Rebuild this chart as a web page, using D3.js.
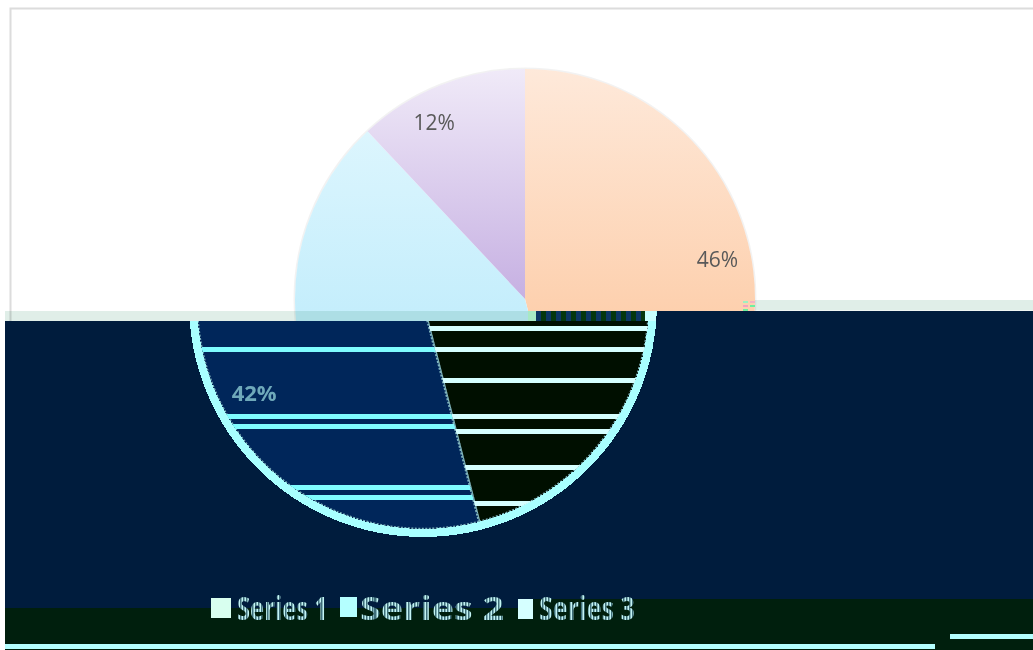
<!DOCTYPE html>
<html>
<head>
<meta charset="utf-8">
<script src="https://cdn.jsdelivr.net/npm/d3@7"></script>
<style>
  html, body { margin: 0; padding: 0; background: #fff; }
  svg { display: block; }
</style>
</head>
<body>
<div id="chart-area"></div>
<script>
// Data (legend words are not legible in the reference, so these are stand-ins)
const sliceNames = ["Series 1", "Series 2", "Series 3"];
const sliceValues = [46, 42, 12];
const sliceLabels = ["46%", "42%", "12%"];

const width = 1033, height = 650;

const svg = d3.select("#chart-area").append("svg")
  .attr("width", width)
  .attr("height", height);

const defs = svg.append("defs");

// Gradients run in the pie group's own coordinates, from its top edge to the seam
function addGradient(id, top, bottom) {
  const g = defs.append("linearGradient").attr("id", id)
    .attr("gradientUnits", "userSpaceOnUse")
    .attr("x1", 0).attr("x2", 0).attr("y1", -230).attr("y2", 12);
  g.append("stop").attr("offset", "0%").attr("stop-color", top);
  g.append("stop").attr("offset", "100%").attr("stop-color", bottom);
}
addGradient("grad0", "#fee9da", "#fdd0ae");
addGradient("grad1", "#e4f8fe", "#c5eefc");
addGradient("grad2", "#f0eaf8", "#c4ade1");

// Stippled fill for the damaged text
const stipple = defs.append("pattern").attr("id", "stipple")
  .attr("patternUnits", "userSpaceOnUse").attr("width", 3).attr("height", 3);
stipple.append("rect").attr("width", 3).attr("height", 3).attr("fill", "#c4f4f4");
stipple.append("rect").attr("width", 1.5).attr("height", 3).attr("fill", "#3f6f7a");

// The picture is split in two blocks at x=530, the right block sits 10px higher
const splitX = 530;
const upperClip = defs.append("clipPath").attr("id", "upper-clip");
upperClip.append("rect").attr("x", 0).attr("y", 0).attr("width", splitX).attr("height", 321);
upperClip.append("rect").attr("x", splitX).attr("y", 0).attr("width", width - splitX).attr("height", 311);

const lowerClip = defs.append("clipPath").attr("id", "lower-clip");
lowerClip.append("rect").attr("x", 5).attr("y", 321).attr("width", splitX - 5).attr("height", 329);
lowerClip.append("rect").attr("x", splitX).attr("y", 311).attr("width", width - splitX).attr("height", 339);

const pie = d3.pie().sort(null).value(d => d);
const slices = pie(sliceValues);

// Chart frame
svg.append("path")
  .attr("d", "M10.5,321V8.5H" + width)
  .attr("fill", "none")
  .attr("stroke", "#dcdcdc")
  .attr("stroke-width", 2);

// Upper, intact part of the pie
const radius = 230;
const arc = d3.arc().innerRadius(0).outerRadius(radius);
const labelArc = d3.arc().innerRadius(195).outerRadius(195);
const labelNudge = [[-1, -15], [2, -4], [-19, 5]];

const upper = svg.append("g").attr("clip-path", "url(#upper-clip)")
  .append("g").attr("transform", "translate(525,299)");

// Soft edge round the pie
upper.append("circle")
  .attr("r", radius + 0.5)
  .attr("fill", "none")
  .attr("stroke", "#000")
  .attr("stroke-opacity", 0.05)
  .attr("stroke-width", 2);

upper.selectAll("path")
  .data(slices)
  .enter()
  .append("path")
  .attr("d", arc)
  .attr("fill", (d, i) => "url(#grad" + i + ")");

// Pale band on the seam
svg.selectAll(".band")
  .data([[5, 311, splitX - 5], [755, 300, width - 755]])
  .enter()
  .append("rect")
  .attr("class", "band")
  .attr("x", d => d[0]).attr("y", d => d[1])
  .attr("width", d => d[2]).attr("height", 10.5)
  .attr("fill", "#e0eee8")
  .style("mix-blend-mode", "multiply");

// Dark blocks
const navy = "#001c3d", green = "#001f0d";
svg.append("rect").attr("x", 5).attr("y", 321).attr("width", splitX - 5).attr("height", 287).attr("fill", navy);
svg.append("rect").attr("x", splitX).attr("y", 311).attr("width", width - splitX).attr("height", 288).attr("fill", navy);
svg.append("rect").attr("x", 5).attr("y", 608).attr("width", splitX - 5).attr("height", 42).attr("fill", green);
svg.append("rect").attr("x", splitX).attr("y", 599).attr("width", width - splitX).attr("height", 51).attr("fill", green);

// Lower part of the pie, shifted left and with wrong colours
const lower = svg.append("g").attr("clip-path", "url(#lower-clip)")
  .append("g").attr("transform", "translate(423,303)");

const lowerArc = d3.arc().innerRadius(0).outerRadius(226);
const lowerFill = ["#000f00", "#00265a"];
const stripeFill = ["#d5ffff", "#7ffcff"];
const stripeRows = [
  [326, 347, 378, 414, 429, 465, 501],
  [347, 414, 424, 485, 495]
];

slices.slice(0, 2).forEach(function(d, i) {
  defs.append("clipPath").attr("id", "slice-clip" + i)
    .append("path")
    .attr("d", lowerArc(d))
    .attr("transform", "translate(423,303)");

  lower.append("path")
    .attr("d", lowerArc(d))
    .attr("fill", lowerFill[i])
    .attr("stroke", "#7fb4bd")
    .attr("stroke-width", 2.5)
    .attr("stroke-dasharray", "2 1.5");

  svg.append("g").attr("clip-path", "url(#slice-clip" + i + ")")
    .selectAll("rect")
    .data(stripeRows[i])
    .enter()
    .append("rect")
    .attr("x", 180).attr("y", d => d)
    .attr("width", 490).attr("height", 5)
    .attr("fill", stripeFill[i])
    .attr("shape-rendering", "crispEdges");
});

// Thick stair-stepped rim
lower.append("path")
  .attr("d", d3.arc().innerRadius(226).outerRadius(234).startAngle(0).endAngle(2 * Math.PI)())
  .attr("fill", "#a8ffff")
  .attr("shape-rendering", "crispEdges");

// Colour noise along the seam
svg.append("g").selectAll("rect")
  .data(d3.range(536, 645, 10))
  .enter()
  .append("rect")
  .attr("x", d => d).attr("y", 311)
  .attr("width", 5).attr("height", 10)
  .attr("fill", "#0b3564");
svg.append("g").selectAll("rect")
  .data(d3.range(541, 645, 10))
  .enter()
  .append("rect")
  .attr("x", d => d).attr("y", 311)
  .attr("width", 5).attr("height", 10)
  .attr("fill", "#05370d");
svg.append("rect").attr("x", 528).attr("y", 311).attr("width", 8).attr("height", 10).attr("fill", "#a7e8c4");
svg.append("rect").attr("x", 645).attr("y", 311).attr("width", 11).attr("height", 10).attr("fill", "#c8ffff");
svg.append("g").selectAll("rect")
  .data([[743, 301, "#9ff0c0"], [750, 301, "#f2b3c4"], [743, 305, "#f2a3c0"], [750, 305, "#6df0a0"], [743, 309, "#6df0a0"]])
  .enter()
  .append("rect")
  .attr("x", d => d[0]).attr("y", d => d[1])
  .attr("width", 5).attr("height", 2)
  .attr("fill", d => d[2]);

// Value labels
upper.selectAll("text")
  .data(slices)
  .enter()
  .filter((d, i) => i !== 1)
  .append("text")
  .attr("transform", d => "translate(" + labelArc.centroid(d) + ")")
  .attr("dx", d => labelNudge[d.index][0])
  .attr("dy", d => labelNudge[d.index][1] + 7)
  .attr("text-anchor", "middle")
  .attr("font-family", "'Open Sans', sans-serif")
  .attr("font-size", "21px")
  .attr("fill", "#595959")
  .text(d => sliceLabels[d.index]);

const lowerLabelPos = labelArc.centroid(slices[1]);
lower.append("text")
  .attr("transform", "translate(" + lowerLabelPos + ")")
  .attr("dx", labelNudge[1][0])
  .attr("dy", labelNudge[1][1] + 8)
  .attr("text-anchor", "middle")
  .attr("font-family", "'Open Sans', sans-serif")
  .attr("font-size", "22px")
  .attr("font-weight", "bold")
  .attr("fill", "#6fa9ba")
  .text(sliceLabels[1]);

// Legend
const legendSwatch = [[211, 598, 20, 20, "#d8ffef"], [340, 597, 17, 20, "#b4ffff"], [518, 599, 15, 20, "#d5ffff"]];
const legendText = [[237, 91], [360, 144], [539, 96]];

const legend = svg.append("g").attr("class", "legend");
sliceNames.forEach(function(name, i) {
  const s = legendSwatch[i], t = legendText[i];
  legend.append("rect")
    .attr("x", s[0]).attr("y", s[1])
    .attr("width", s[2]).attr("height", s[3])
    .attr("fill", s[4])
    .attr("shape-rendering", "crispEdges");
  // letters are stretched up and down like the doubled rows in the reference
  legend.append("g")
    .attr("transform", "translate(" + t[0] + ",620) scale(1,1.35)")
    .append("text")
    .attr("textLength", t[1])
    .attr("lengthAdjust", "spacingAndGlyphs")
    .attr("font-family", "'Open Sans', sans-serif")
    .attr("font-size", "24px")
    .attr("font-weight", "bold")
    .attr("fill", "url(#stipple)")
    .text(name);
});

// Bright lines at the bottom
svg.append("rect").attr("x", 5).attr("y", 644).attr("width", 930).attr("height", 5).attr("fill", "#b4ffff");
svg.append("rect").attr("x", 950).attr("y", 634).attr("width", 83).attr("height", 5).attr("fill", "#b4ffff");
</script>
</body>
</html>
